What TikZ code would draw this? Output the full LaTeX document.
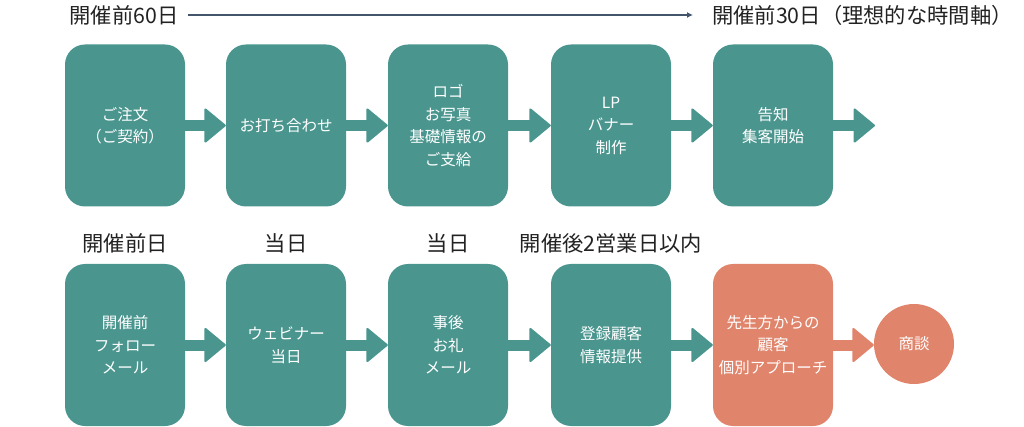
\documentclass[tikz,border=0pt]{standalone}
\usepackage{fontspec}
\setmainfont{Noto Sans CJK JP}
\usetikzlibrary{arrows.meta}
\definecolor{tealbox}{HTML}{4A968F}
\definecolor{salmonbox}{HTML}{E0846B}
\definecolor{navyline}{HTML}{44546A}
\definecolor{headtext}{HTML}{222222}
\begin{document}
\begin{tikzpicture}[x=1pt,y=-1pt,
  stepbox/.style={fill=#1, draw=none, rounded corners=20pt, minimum width=120pt, minimum height=162pt,
    text=white, align=center, inner sep=0pt, font=\fontsize{15.5}{22.5}\selectfont},
  headlabel/.style={text=headtext, inner sep=0pt, font=\fontsize{21.3}{24}\selectfont},
  flow/.style={#1, line width=11pt, -{Triangle[length=22pt,width=36pt,line width=2pt,round]}}
]
\useasboundingbox (0,0) rectangle (1024,427);

% header
\node[headlabel] (h1) at (124,15) {開催前60日};
\node[headlabel, anchor=west] (h2) at (712,15) {開催前30日（理想的な時間軸）};
\draw[navyline, line width=1.3pt, -{Latex[length=6pt,width=6pt]}, shorten <=9pt, shorten >=19pt] (h1.east) -- (h2.west);

% top row
\node[stepbox=tealbox] (a1) at (125,125.5) {ご注文\\（ご契約）};
\node[stepbox=tealbox] (a2) at (286,125.5) {お打ち合わせ};
\node[stepbox=tealbox] (a3) at (448,125.5) {ロゴ\\お写真\\基礎情報の\\ご支給};
\node[stepbox=tealbox] (a4) at (611,125.5) {LP\\バナー\\制作};
\node[stepbox=tealbox] (a5) at (773,125.5) {告知\\集客開始};
\coordinate (aend) at (875,125.5);

\draw[flow=tealbox] (a1.east) -- (a2.west);
\draw[flow=tealbox] (a2.east) -- (a3.west);
\draw[flow=tealbox] (a3.east) -- (a4.west);
\draw[flow=tealbox] (a4.east) -- (a5.west);
\draw[flow=tealbox] (a5.east) -- (aend);

% bottom labels
\node[headlabel] (l1) at (125,243) {開催前日};
\node[headlabel] (l2) at (286,243) {当日};
\node[headlabel] (l3) at (448,243) {当日};
\node[headlabel] (l4) at (611,243) {開催後2営業日以内};

% bottom row
\node[stepbox=tealbox] (b1) at (125,345) {開催前\\フォロー\\メール};
\node[stepbox=tealbox] (b2) at (286,345) {ウェビナー\\当日};
\node[stepbox=tealbox] (b3) at (448,345) {事後\\お礼\\メール};
\node[stepbox=tealbox] (b4) at (611,345) {登録顧客\\情報提供};
\node[stepbox=salmonbox] (b5) at (773,345) {先生方からの\\顧客\\個別アプローチ};
\node[circle, fill=salmonbox, minimum size=80pt, inner sep=0pt, text=white,
  font=\fontsize{15.5}{22.5}\selectfont] (b6) at (914,344) {商談};

\draw[flow=tealbox] (b1.east) -- (b2.west);
\draw[flow=tealbox] (b2.east) -- (b3.west);
\draw[flow=tealbox] (b3.east) -- (b4.west);
\draw[flow=tealbox] (b4.east) -- (b5.west);
\draw[flow=salmonbox] (b5.east) -- (b5.east -| b6.west);
\end{tikzpicture}
\end{document}
